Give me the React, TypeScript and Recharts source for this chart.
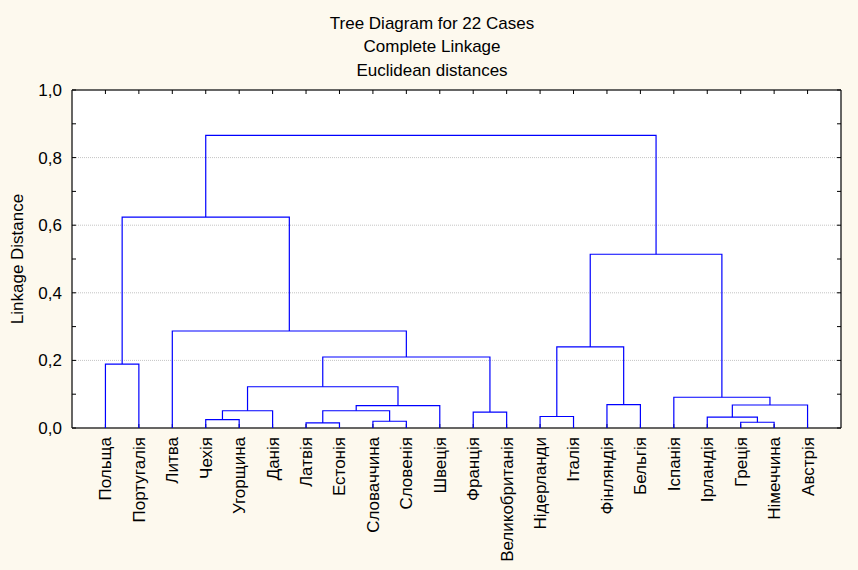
import React from 'react';
import { ScatterChart, Scatter, XAxis, YAxis, CartesianGrid } from 'recharts';

const countries = [
  'Польща', 'Португалія', 'Литва', 'Чехія', 'Угорщина', 'Данія', 'Латвія', 'Естонія',
  'Словаччина', 'Словенія', 'Швеція', 'Франція', 'Великобританія', 'Нідерланди', 'Італія',
  'Фінляндія', 'Бельгія', 'Іспанія', 'Ірландія', 'Греція', 'Німеччина', 'Австрія',
];

// linkage rows: [left, right, distance]; ids < 22 are countries, 22 + k is the cluster of row k
const merges: [number, number, number][] = [
  [6, 7, 0.015],
  [19, 20, 0.017],
  [8, 9, 0.02],
  [3, 4, 0.025],
  [18, 23, 0.032],
  [13, 14, 0.034],
  [11, 12, 0.047],
  [22, 24, 0.051],
  [25, 5, 0.051],
  [29, 10, 0.066],
  [26, 21, 0.068],
  [15, 16, 0.069],
  [17, 32, 0.091],
  [30, 31, 0.122],
  [0, 1, 0.189],
  [35, 28, 0.21],
  [27, 33, 0.24],
  [2, 37, 0.287],
  [38, 34, 0.514],
  [36, 39, 0.624],
  [41, 40, 0.866],
];

const yTicks = [0, 0.1, 0.2, 0.3, 0.4, 0.5, 0.6, 0.7, 0.8, 0.9, 1.0];
const gridValues = [0.2, 0.4, 0.6, 0.8];
const titleLines = ['Tree Diagram for 22 Cases', 'Complete Linkage', 'Euclidean distances'];

const leafTicks = countries.map((_, i) => i + 1);

// build the U-shaped links from the linkage rows
const nodeX: number[] = countries.map((_, i) => i + 1);
const nodeH: number[] = countries.map(() => 0);
const links = merges.map(([a, b, h]) => {
  const pts = [
    { x: nodeX[a], y: nodeH[a] },
    { x: nodeX[a], y: h },
    { x: nodeX[b], y: h },
    { x: nodeX[b], y: nodeH[b] },
  ];
  nodeX.push((nodeX[a] + nodeX[b]) / 2);
  nodeH.push(h);
  return pts;
});
const allPoints = links.flat();

const FONT = '"Liberation Sans", Arial, sans-serif';
const FRAME = '#333';

const LeafTick = (props: any) => {
  const { x, y, payload } = props;
  return (
    <text
      x={x}
      y={y}
      transform={`rotate(-90, ${x}, ${y})`}
      textAnchor="end"
      dy="0.35em"
      fontSize={17}
      fill="#000"
      fontFamily={FONT}
    >
      {countries[payload.value - 1]}
    </text>
  );
};

const fmtY = (v: number) => (Math.round(v * 10) % 2 === 0 ? v.toFixed(1).replace('.', ',') : '');
const noLabel = () => '';
const noShape = () => <g />;

export default function App() {
  return (
    <div
      style={{
        position: 'absolute',
        left: 0,
        top: 0,
        width: 858,
        height: 570,
        background: '#fdf9ee',
        fontFamily: FONT,
      }}
    >
      <div
        style={{
          position: 'absolute',
          left: 232,
          top: 12,
          width: 400,
          textAlign: 'center',
          fontSize: 17,
          lineHeight: '23.3px',
          color: '#000',
        }}
      >
        {titleLines.map((t) => (
          <div key={t}>{t}</div>
        ))}
      </div>
      <ScatterChart width={858} height={570} margin={{ top: 89, right: 16, left: 0, bottom: 0 }}>
        <CartesianGrid
          vertical={false}
          horizontalValues={gridValues}
          stroke="#c4c4c4"
          strokeDasharray="1 1"
          fill="#ffffff"
          fillOpacity={1}
        />
        <XAxis
          dataKey="x"
          type="number"
          domain={[0, 23]}
          ticks={leafTicks}
          interval={0}
          height={142}
          tickSize={-4}
          tickMargin={13}
          tick={<LeafTick />}
          axisLine={{ stroke: FRAME, strokeWidth: 1.5 }}
          tickLine={{ stroke: '#000' }}
        />
        <XAxis
          xAxisId="top"
          orientation="top"
          dataKey="x"
          type="number"
          domain={[0, 23]}
          ticks={leafTicks}
          interval={0}
          height={1}
          tickSize={-4}
          tickFormatter={noLabel}
          axisLine={{ stroke: FRAME, strokeWidth: 1.5 }}
          tickLine={{ stroke: '#000' }}
        />
        <YAxis
          dataKey="y"
          type="number"
          domain={[0, 1]}
          ticks={yTicks}
          interval={0}
          width={72}
          tickSize={-4}
          tickMargin={14}
          tickFormatter={fmtY}
          tick={{ fontSize: 17, fill: '#000', fontFamily: FONT }}
          axisLine={{ stroke: FRAME, strokeWidth: 1.5 }}
          tickLine={{ stroke: '#000' }}
          label={{
            value: 'Linkage Distance',
            angle: -90,
            position: 'insideLeft',
            offset: 17,
            style: { textAnchor: 'middle', fontSize: 17, fill: '#000', fontFamily: FONT },
          }}
        />
        <YAxis
          yAxisId="right"
          orientation="right"
          dataKey="y"
          type="number"
          domain={[0, 1]}
          ticks={yTicks}
          interval={0}
          width={1}
          tickSize={-4}
          tickFormatter={noLabel}
          axisLine={{ stroke: FRAME, strokeWidth: 1.5 }}
          tickLine={{ stroke: '#000' }}
        />
        {/* invisible series so the frame axes get a scale */}
        <Scatter
          xAxisId="top"
          yAxisId="right"
          data={allPoints}
          shape={noShape}
          isAnimationActive={false}
        />
        {links.map((pts, i) => (
          <Scatter
            key={i}
            data={pts}
            line={{ stroke: '#0000ff', strokeWidth: 1.2 }}
            shape={noShape}
            isAnimationActive={false}
          />
        ))}
      </ScatterChart>
    </div>
  );
}
